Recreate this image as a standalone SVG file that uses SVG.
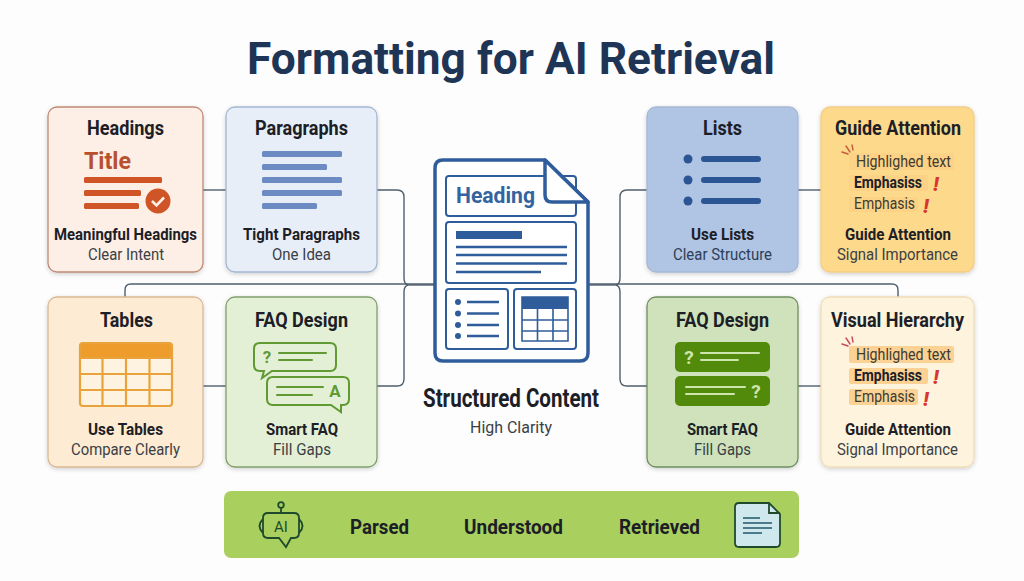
<svg xmlns="http://www.w3.org/2000/svg" width="1024" height="581" viewBox="0 0 1024 581">
<defs>
<filter id="sh" x="-10%" y="-10%" width="120%" height="120%"><feDropShadow dx="0" dy="1.5" stdDeviation="2" flood-color="#000" flood-opacity="0.18"/></filter>
</defs>
<style>
text{font-family:Roboto,"Liberation Sans",sans-serif;text-anchor:middle;fill:#1c2026}
.h{font-size:21px;font-weight:700}
.b{font-size:17px;font-weight:700}
.r{font-size:17px;font-weight:400;fill:#3a3f45}
.l{font-size:21px;font-weight:700}
.card{filter:url(#sh);stroke-width:1.3}
.conn{fill:none;stroke:#4f5f6e;stroke-width:1.4}
.doc{fill:none;stroke:#2f5d9b;stroke-width:2}
.hl{fill:#fbc77c;opacity:.75}
.ex{fill:#d8352f;font-weight:900;font-size:20px;font-style:italic}
.sp{fill:none;stroke:#c8583a;stroke-width:1.4;stroke-linecap:round}
.ht{font-size:16px;fill:#3f3a30}
.ft{fill:none;stroke:#5f9a32;stroke-width:2;stroke-linecap:round}
.ff{fill:none;stroke:#cfe5ae;stroke-width:2;stroke-linecap:round}
.tb{fill:none;stroke:#e8a33d;stroke-width:2.2}
</style>
<rect width="1024" height="581" fill="#fdfdfd"/>
<text id="title" x="511" y="74" font-size="44" font-weight="700" style="fill:#1f3556" textLength="528" lengthAdjust="spacingAndGlyphs">Formatting for AI Retrieval</text>

<g id="connectors" class="conn">
<path d="M203 190H226"/>
<path d="M377 190H397Q404 190 404 197V278Q404 284 408 285Q404 286 404 292V379Q404 386 397 386H377"/>
<path d="M408 285H435"/>
<path d="M203 386H226"/>
<path d="M125 297V290Q125 284 131 284H892Q898 284 898 290V297"/>
<path d="M647 190H627Q620 190 620 197V278Q620 284 616 285Q620 286 620 292V379Q620 386 627 386H647"/>
<path d="M588 285H616"/>
<path d="M798 190H821"/>
<path d="M798 386H821"/>
</g>

<g id="node-headings">
<rect class="card" x="48" y="107" width="155" height="165" rx="9" fill="#fdeee6" stroke="#c08a76"/>
<text class="h" x="125.500" y="135" textLength="77" lengthAdjust="spacingAndGlyphs">Headings</text>
<text x="107.500" y="169" font-size="24" font-weight="700" style="fill:#b8502f" textLength="47" lengthAdjust="spacingAndGlyphs">Title</text>
<rect x="84" y="177" width="78" height="6" rx="1.500" fill="#cf5426"/>
<rect x="84" y="190" width="57" height="6" rx="1.500" fill="#cf5426"/>
<rect x="84" y="203" width="55" height="6" rx="1.500" fill="#cf5426"/>
<circle cx="158" cy="201" r="12.500" fill="#cf5426"/>
<path d="M152 201L156.500 205.500L164 197.500" fill="none" stroke="#fdeee6" stroke-width="2.600"/>
<text class="b" x="125.500" y="239.500" textLength="143" lengthAdjust="spacingAndGlyphs">Meaningful Headings</text>
<text class="r" x="126" y="259.500" textLength="76" lengthAdjust="spacingAndGlyphs">Clear Intent</text>
</g>

<g id="node-paragraphs">
<rect class="card" x="226" y="107" width="151" height="165" rx="9" fill="#e8eef8" stroke="#a3b6d3"/>
<text class="h" x="301.500" y="135" textLength="93" lengthAdjust="spacingAndGlyphs">Paragraphs</text>
<g fill="#6c8bc2">
<rect x="262" y="151" width="80" height="6" rx="1.500"/>
<rect x="262" y="164" width="65" height="6" rx="1.500"/>
<rect x="262" y="177" width="80" height="6" rx="1.500"/>
<rect x="262" y="190" width="80" height="6" rx="1.500"/>
<rect x="262" y="203" width="55" height="6" rx="1.500"/>
</g>
<text class="b" x="301.500" y="239.500" textLength="117" lengthAdjust="spacingAndGlyphs">Tight Paragraphs</text>
<text class="r" x="301.500" y="259.500" textLength="59" lengthAdjust="spacingAndGlyphs">One Idea</text>
</g>

<g id="node-lists">
<rect class="card" x="647" y="107" width="151" height="165" rx="9" fill="#b0c4e3" stroke="#a5b8d6"/>
<text class="h" x="722.500" y="135" textLength="39" lengthAdjust="spacingAndGlyphs">Lists</text>
<g fill="#2c5596">
<circle cx="688" cy="159" r="4.500"/><rect x="701" y="156" width="60" height="6" rx="3"/>
<circle cx="688" cy="180" r="4.500"/><rect x="701" y="177" width="60" height="6" rx="3"/>
<circle cx="688" cy="201" r="4.500"/><rect x="701" y="198" width="60" height="6" rx="3"/>
</g>
<text class="b" x="722.500" y="239.500" textLength="63" lengthAdjust="spacingAndGlyphs">Use Lists</text>
<text class="r" x="722.500" y="259.500" textLength="99" lengthAdjust="spacingAndGlyphs" style="fill:#2d3f58">Clear Structure</text>
</g>

<g id="node-guide">
<rect class="card" x="821" y="107" width="153" height="165" rx="9" fill="#fdd98c" stroke="#f3cd85"/>
<text class="h" x="898" y="135" textLength="126" lengthAdjust="spacingAndGlyphs">Guide Attention</text>
<path class="sp" d="M842 152L848 154M846 146L850 152M852 145L853 150"/>
<rect class="hl" x="849" y="153" width="105" height="17" rx="2" style="opacity:.4"/>
<rect class="hl" x="849" y="175" width="79" height="16" rx="2" style="opacity:.4"/>
<rect class="hl" x="849" y="197" width="69" height="15" rx="2" style="opacity:.4"/>
<text class="ht" x="903.500" y="167" textLength="95" lengthAdjust="spacingAndGlyphs">Highlighed text</text>
<text class="ht" x="888" y="188" font-weight="700" textLength="68" lengthAdjust="spacingAndGlyphs" style="fill:#1c2026">Emphasiss</text>
<text class="ht" x="884.500" y="209" textLength="61" lengthAdjust="spacingAndGlyphs">Emphasis</text>
<text class="ex" x="936" y="191">!</text>
<text class="ex" x="926" y="212.500">!</text>
<text class="b" x="898" y="239.500" textLength="106" lengthAdjust="spacingAndGlyphs">Guide Attention</text>
<text class="r" x="897.500" y="259.500" textLength="121" lengthAdjust="spacingAndGlyphs">Signal Importance</text>
</g>

<g id="node-tables">
<rect class="card" x="48" y="297" width="155" height="170" rx="9" fill="#fdebd3" stroke="#d9b994"/>
<text class="h" x="126.500" y="327" textLength="53" lengthAdjust="spacingAndGlyphs">Tables</text>
<rect x="80" y="343" width="92" height="63" rx="3" fill="#fdf3e0"/>
<path d="M80 358V346Q80 343 83 343H169Q172 343 172 346V358Z" fill="#ee9d2c"/>
<rect class="tb" x="80" y="343" width="92" height="63" rx="3"/>
<path class="tb" d="M80 358H172M80 374H172M80 390H172M102.500 358V406M126 358V406M149.500 358V406"/>
<text class="b" x="125.500" y="434.500" textLength="75" lengthAdjust="spacingAndGlyphs">Use Tables</text>
<text class="r" x="125.500" y="454.500" textLength="109" lengthAdjust="spacingAndGlyphs">Compare Clearly</text>
</g>

<g id="node-faq-left">
<rect class="card" x="226" y="297" width="151" height="170" rx="9" fill="#e4f0d6" stroke="#7f9f6b"/>
<text class="h" x="301.500" y="327" textLength="93" lengthAdjust="spacingAndGlyphs">FAQ Design</text>
<path class="ft" d="M260 343H330Q336 343 336 349V365Q336 371 330 371H272L262 378L264 371H260Q254 371 254 365V349Q254 343 260 343Z"/>
<path class="ft" d="M273 377H343Q349 377 349 383V399Q349 405 343 405H341L341 412L331 405H273Q267 405 267 399V383Q267 377 273 377Z"/>
<text x="267" y="363" font-size="17" font-weight="700" style="fill:#5f9a32">?</text>
<path class="ft" d="M279 353H326M279 360H312M277 387H323M277 395H312"/>
<text x="335" y="397" font-size="17" font-weight="700" style="fill:#5f9a32">A</text>
<text class="b" x="302" y="434.500" textLength="72" lengthAdjust="spacingAndGlyphs">Smart FAQ</text>
<text class="r" x="302" y="454.500" textLength="58" lengthAdjust="spacingAndGlyphs">Fill Gaps</text>
</g>

<g id="node-document">
<path d="M443 160H545L588 202V353Q588 361 580 361H443Q435 361 435 353V168Q435 160 443 160Z" fill="#fff" stroke="#2f5d9b" stroke-width="3.500" stroke-linejoin="round"/>
<rect class="doc" x="446" y="176" width="130" height="40" rx="3"/>
<text x="495.500" y="203" font-size="22" font-weight="700" style="fill:#34649f" textLength="79" lengthAdjust="spacingAndGlyphs">Heading</text>
<path d="M545 160V195Q545 202 552 202H588Z" fill="#fff" stroke="#2f5d9b" stroke-width="3.500" stroke-linejoin="round"/>
<rect class="doc" x="446" y="222" width="130" height="61" rx="3"/>
<rect x="456" y="231" width="66" height="8" fill="#2f5d9b"/>
<path d="M456 247H567M456 255H567M456 263.500H567M456 272H541" stroke="#2f5d9b" stroke-width="2.300" fill="none"/>
<rect class="doc" x="446" y="289" width="62" height="60" rx="3"/>
<rect class="doc" x="514" y="289" width="62" height="60" rx="3"/>
<g fill="#2f5d9b"><circle cx="458" cy="302" r="3"/><circle cx="458" cy="313.500" r="3"/><circle cx="458" cy="325" r="3"/><circle cx="458" cy="336" r="3"/></g>
<path d="M467 302H499M467 313.500H499M467 325H499M467 336H499" stroke="#2f5d9b" stroke-width="2.300" fill="none"/>
<rect x="522" y="297" width="46" height="12" fill="#2f5d9b"/>
<path d="M522 297H568V341H522ZM522 320H568M522 331H568M537.500 309V341M553 309V341" fill="none" stroke="#2f5d9b" stroke-width="1.600"/>
<text x="511" y="406.500" font-size="25" font-weight="700" textLength="176" lengthAdjust="spacingAndGlyphs">Structured Content</text>
<text class="r" x="511" y="432.500" textLength="82" lengthAdjust="spacingAndGlyphs">High Clarity</text>
</g>

<g id="node-faq-right">
<rect class="card" x="647" y="297" width="151" height="170" rx="9" fill="#cfe2bc" stroke="#6f8f5f"/>
<text class="h" x="722.500" y="327" textLength="93" lengthAdjust="spacingAndGlyphs">FAQ Design</text>
<rect x="675" y="342" width="95" height="30" rx="5" fill="#528a0c"/>
<rect x="675" y="376" width="95" height="30" rx="5" fill="#528a0c"/>
<text x="689" y="364" font-size="19" font-weight="700" style="fill:#cfe5ae">?</text>
<text x="756" y="398" font-size="19" font-weight="700" style="fill:#cfe5ae">?</text>
<path class="ff" d="M701 353H759M701 360H738M686 387H745M686 394H734"/>
<text class="b" x="722.500" y="434.500" textLength="71" lengthAdjust="spacingAndGlyphs">Smart FAQ</text>
<text class="r" x="722.500" y="454.500" textLength="57" lengthAdjust="spacingAndGlyphs">Fill Gaps</text>
</g>

<g id="node-visual">
<rect class="card" x="821" y="297" width="153" height="170" rx="9" fill="#fef3dc" stroke="#f0dcb8"/>
<text class="h" x="897.500" y="327" textLength="133" lengthAdjust="spacingAndGlyphs">Visual Hierarchy</text>
<path class="sp" style="stroke:#c8485a" d="M842 344L848 346M846 338L850 344M852 337L853 342"/>
<rect class="hl" x="849" y="346" width="105" height="17" rx="2"/>
<rect class="hl" x="849" y="368" width="79" height="16" rx="2"/>
<rect class="hl" x="849" y="389" width="69" height="16" rx="2"/>
<text class="ht" x="903.500" y="360" textLength="95" lengthAdjust="spacingAndGlyphs">Highlighed text</text>
<text class="ht" x="888" y="381" font-weight="700" textLength="68" lengthAdjust="spacingAndGlyphs" style="fill:#1c2026">Emphasiss</text>
<text class="ht" x="884.500" y="402" textLength="61" lengthAdjust="spacingAndGlyphs">Emphasis</text>
<text class="ex" x="936" y="384">!</text>
<text class="ex" x="926" y="405.500">!</text>
<text class="b" x="898" y="434.500" textLength="106" lengthAdjust="spacingAndGlyphs">Guide Attention</text>
<text class="r" x="897.500" y="454.500" textLength="121" lengthAdjust="spacingAndGlyphs">Signal Importance</text>
</g>

<g id="node-bar">
<rect x="224" y="491" width="575" height="67" rx="7" fill="#a9d05f"/>
<g fill="none" stroke="#1f4a2c" stroke-width="1.800">
<circle cx="281" cy="505" r="2.800"/>
<path d="M281 508V513"/>
<path d="M268 513H294Q299 513 299 518V533Q299 538 294 538H291L286 547L279 538H268Q263 538 263 533V518Q263 513 268 513Z"/>
<path d="M263 519Q256 526 263 533M299 519Q306 526 299 533"/>
<path d="M741 503H769L780 514V543Q780 547 776 547H739Q735 547 735 543V507Q735 503 739 503Z" fill="#cfe8ee"/>
<path d="M769 503V513H780"/>
<path d="M743 518H760M743 523H772M743 528H772M743 533H762" stroke="#4a7a8c"/>
</g>
<text x="281" y="532" font-size="15" font-weight="400" style="fill:#1f4a2c">AI</text>
<text class="l" x="379.500" y="533.500" textLength="59" lengthAdjust="spacingAndGlyphs">Parsed</text>
<text class="l" x="513.500" y="533.500" textLength="99" lengthAdjust="spacingAndGlyphs">Understood</text>
<text class="l" x="659.500" y="533.500" textLength="81" lengthAdjust="spacingAndGlyphs">Retrieved</text>
</g>
</svg>
